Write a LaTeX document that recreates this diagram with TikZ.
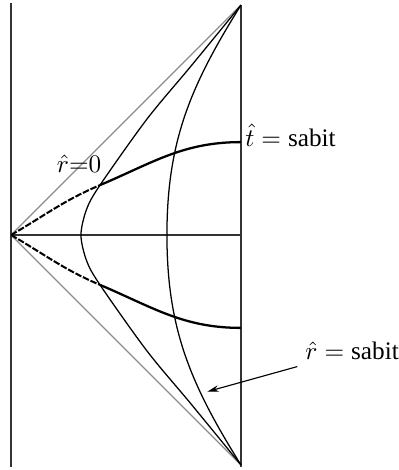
\documentclass[tikz,border=0pt]{standalone}
\usepackage{fontspec}
\setmainfont{Liberation Serif}
\usetikzlibrary{arrows.meta}

\begin{document}
\begin{tikzpicture}[x=3.2cm, y=3.2cm,
          frame/.style={line width=0.5pt, black!80},
          nul/.style={line width=0.45pt, black!45},
          rcurve/.style={line width=0.5pt, black},
          tcurve/.style={line width=0.9pt, black},
          tdash/.style={line width=0.8pt, black, dash pattern=on 2.6pt off 0.7pt},
          arr/.style={-{Stealth[length=4.5pt, width=2.6pt]}, line width=0.45pt}
        ]
        \useasboundingbox (-0.048,-1.022) rectangle (1.687,1.022);

        \coordinate (O)   at (0,0);
        \coordinate (top) at (1,1);
        \coordinate (bot) at (1,-1);
        \coordinate (tup) at (1,0.404);
        \coordinate (tdn) at (1,-0.404);
        \coordinate (cu)  at (0.387,0.217);
        \coordinate (cd)  at (0.387,-0.217);
        \coordinate (rin) at (0.304,0);
        \coordinate (rout) at (0.678,0);

        % frame
        \draw[frame] (0,1.009) -- (0,-1.009);
        \draw[frame] (top) -- (1,-1.009);
        \draw[frame] (O) -- (1,0);
        \draw[nul] (O) -- (top);
        \draw[nul] (O) -- (bot);

        % r = const
        \draw[rcurve] plot[smooth] coordinates {(1,1) (0.783,0.735) (0.591,0.504)
              (0.387,0.217) (0.329,0.113) (0.304,0) (0.329,-0.113) (0.387,-0.217)
              (0.591,-0.504) (0.783,-0.735) (1,-1)};
        \draw[rcurve] (top) to[out=238, in=90] (rout) to[out=-90, in=122] (bot);

        % t = const
        \draw[tdash] (O) to[out=30, in=203] (cu);
        \draw[tcurve] (cu) to[out=23, in=180] (tup);
        \draw[tdash] (O) to[out=-30, in=-203] (cd);
        \draw[tcurve] (cd) to[out=-23, in=180] (tdn);

        \node[anchor=west, inner sep=1.5pt] (tlbl) at (1,0.432)
              {$\hat{t}=\mbox{sabit}$};
        \node[inner sep=0pt] (r0) at (0.296,0.309) {$\hat{r}{=}0$};
        \node[anchor=west, inner sep=3pt] (rlbl) at (1.245,-0.506)
              {$\hat{r}=\mbox{sabit}$};
        \coordinate (tip) at (0.854,-0.681);
        \draw[arr] (rlbl) -- (tip);
      \end{tikzpicture}
\end{document}
